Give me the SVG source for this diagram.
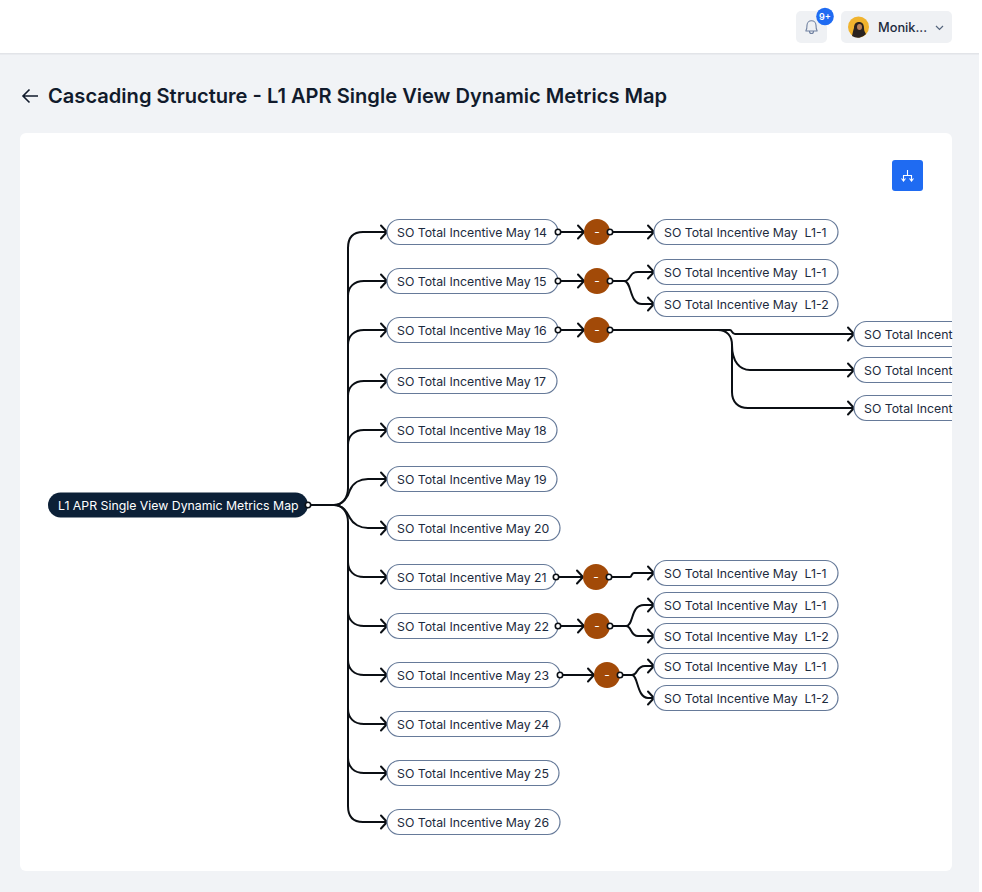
<svg xmlns="http://www.w3.org/2000/svg" width="982" height="892" viewBox="0 0 982 892">
<style>
text{font-family:Inter,"Liberation Sans",sans-serif;fill:#1c2a3d}
.l{font-size:12.3px}
.p{fill:#fff;stroke:#667a99;stroke-width:1.2}
.c{fill:none;stroke:#0b0f14;stroke-width:2;stroke-linecap:round}
.a{fill:none;stroke:#0b0f14;stroke-width:2;stroke-linecap:round;stroke-linejoin:round}
.d{fill:#fff;stroke:#0b0f14;stroke-width:1.6}
.m{fill:#a24a08}
.mt{font-size:12px;fill:#fff;text-anchor:middle}
</style>
<defs>
<clipPath id="card"><rect x="20" y="133" width="932" height="738" rx="6"/></clipPath>
<marker id="ah" markerUnits="userSpaceOnUse" markerWidth="14" markerHeight="16" refX="11" refY="8" orient="auto"><path class="a" d="M5 1.5L11 8L5 14.5"/></marker>
</defs>
<rect width="982" height="892" fill="#f1f3f6"/>
<rect x="979" width="3" height="892" fill="#fff"/>
<rect width="979" height="53" fill="#fff"/>
<rect y="53" width="979" height="1.5" fill="#e2e4e8"/>
<g id="bell"><rect x="796" y="11" width="31" height="32" rx="5" fill="#eff1f4"/>
<path d="M806 31v-.7c1-1 1-2 1-5a4.500 4.500 0 0 1 9 0c0 3 0 4 1 5v.7zM809.500 31.500a2 2 0 0 0 4 0" fill="none" stroke="#6f80a0" stroke-width="1.100"/>
<circle cx="825" cy="16.500" r="8.800" fill="#1f6bf2"/><text x="825" y="20" font-size="9" font-weight="600" text-anchor="middle" style="fill:#fff">9+</text></g>
<g id="user"><rect x="841" y="11" width="111" height="32" rx="5" fill="#eff1f4"/>
<circle cx="858.500" cy="27" r="10.500" fill="#f0b32e"/><path d="M852 36c1-4 1-5 2-8c0-4 2-6 5-6s5 2 5 6c0 3 1 4 2 6a10.500 10.500 0 0 1-14 2z" fill="#2a2320"/><ellipse cx="859.500" cy="27" rx="2.500" ry="3" fill="#b9825c"/>
<text x="878" y="32" font-size="12.800" font-weight="500">Monik...</text><path d="M936 26l3.500 3.500L943 26" fill="none" stroke="#55657d" stroke-width="1.200"/></g>
<g id="heading"><path d="M38 96H23M29.500 89.500L23 96l6.500 6.500" fill="none" stroke="#111b2c" stroke-width="1.600"/>
<text x="48" y="103" font-size="20.100" font-weight="600" style="fill:#111b2c">Cascading Structure - L1 APR Single View Dynamic Metrics Map</text></g>
<rect id="panel" x="20" y="133" width="932" height="738" rx="6" fill="#fff"/>
<g id="layout-button"><rect x="892" y="160" width="31" height="31" rx="3" fill="#1f6bf2"/><path d="M907.500 170v5M903.500 181v-5.500h8v5.500M901.500 178.500l2 2.500l2-2.500M909.500 178.500l2 2.500l2-2.500" fill="none" stroke="#fff" stroke-width="1.100"/></g>
<g id="connectors" clip-path="url(#card)">
<path class="c" d="M308 505H334C343 505 348 497 348 488V248C348 238 353 232 363 232H387" marker-end="url(#ah)"/>
<path class="c" d="M348 296C348 287 354 281 364 281H387" marker-end="url(#ah)"/>
<path class="c" d="M348 345C348 336 354 330 364 330H387" marker-end="url(#ah)"/>
<path class="c" d="M348 396C348 387 354 381 364 381H387" marker-end="url(#ah)"/>
<path class="c" d="M348 445C348 436 354 430 364 430H387" marker-end="url(#ah)"/>
<path class="c" d="M334 505C343 505 348 497 350 490C353 483 360 479 368 479H387" marker-end="url(#ah)"/>
<path class="c" d="M334 505C343 505 347 512 350 518C353 524 360 528 368 528H387" marker-end="url(#ah)"/>
<path class="c" d="M334 505C343 505 348 513 348 522V806C348 816 353 822 363 822H387" marker-end="url(#ah)"/>
<path class="c" d="M348 562C348 571 354 577 364 577H387" marker-end="url(#ah)"/>
<path class="c" d="M348 611C348 620 354 626 364 626H387" marker-end="url(#ah)"/>
<path class="c" d="M348 660C348 669 354 675 364 675H387" marker-end="url(#ah)"/>
<path class="c" d="M348 709C348 718 354 724 364 724H387" marker-end="url(#ah)"/>
<path class="c" d="M348 758C348 767 354 773 364 773H387" marker-end="url(#ah)"/>
<path class="c" d="M558 232H584" marker-end="url(#ah)"/><path class="c" d="M610 232H654" marker-end="url(#ah)"/>
<path class="c" d="M558 281H584" marker-end="url(#ah)"/>
<path class="c" d="M610 281H624C632 281 628 272 638 272H654" marker-end="url(#ah)"/>
<path class="c" d="M624 281C632 281 629 304 642 304H654" marker-end="url(#ah)"/>
<path class="c" d="M558 330H584" marker-end="url(#ah)"/>
<path class="c" d="M610 330H730C732 330 732 334 735 334H854" marker-end="url(#ah)"/>
<path class="c" d="M718 330C727 330 732 336 732 345C732 362 740 370 750 370H854" marker-end="url(#ah)"/>
<path class="c" d="M732 345V392C732 402 738 408 748 408H854" marker-end="url(#ah)"/>
<path class="c" d="M556 577H583" marker-end="url(#ah)"/>
<path class="c" d="M609 577H630C632 577 631 573 634 573H654" marker-end="url(#ah)"/>
<path class="c" d="M558 626H584" marker-end="url(#ah)"/>
<path class="c" d="M610 626H626C634 626 630 605 644 605H654" marker-end="url(#ah)"/>
<path class="c" d="M626 626C632 626 630 636 638 636H654" marker-end="url(#ah)"/>
<path class="c" d="M560 675H594" marker-end="url(#ah)"/>
<path class="c" d="M620 675H632C638 675 636 666 645 666H654" marker-end="url(#ah)"/>
<path class="c" d="M632 675C638 675 637 698 648 698H654" marker-end="url(#ah)"/>
</g>
<g id="root"><rect x="48" y="492.500" width="260" height="25" rx="12.500" fill="#0c2037"/><text x="58" y="509.500" class="l" style="fill:#fff">L1 APR Single View Dynamic Metrics Map</text><circle class="d" cx="308" cy="505" r="2.700"/></g>
<g id="n14"><rect class="p" x="387" y="219.500" width="171" height="25" rx="12.500"/><text class="l" x="397" y="236.500">SO Total Incentive May 14</text><circle class="d" cx="558" cy="232" r="2.700"/></g>
<g id="n15"><rect class="p" x="387" y="268.500" width="171" height="25" rx="12.500"/><text class="l" x="397" y="285.500">SO Total Incentive May 15</text><circle class="d" cx="558" cy="281" r="2.700"/></g>
<g id="n16"><rect class="p" x="387" y="317.500" width="171" height="25" rx="12.500"/><text class="l" x="397" y="334.500">SO Total Incentive May 16</text><circle class="d" cx="558" cy="330" r="2.700"/></g>
<g id="n17"><rect class="p" x="387" y="368.500" width="170" height="25" rx="12.500"/><text class="l" x="397" y="385.500">SO Total Incentive May 17</text></g>
<g id="n18"><rect class="p" x="387" y="417.500" width="170" height="25" rx="12.500"/><text class="l" x="397" y="434.500">SO Total Incentive May 18</text></g>
<g id="n19"><rect class="p" x="387" y="466.500" width="170" height="25" rx="12.500"/><text class="l" x="397" y="483.500">SO Total Incentive May 19</text></g>
<g id="n20"><rect class="p" x="387" y="515.500" width="173" height="25" rx="12.500"/><text class="l" x="397" y="532.500">SO Total Incentive May 20</text></g>
<g id="n21"><rect class="p" x="387" y="564.500" width="169" height="25" rx="12.500"/><text class="l" x="397" y="581.500">SO Total Incentive May 21</text><circle class="d" cx="556" cy="577" r="2.700"/></g>
<g id="n22"><rect class="p" x="387" y="613.500" width="171" height="25" rx="12.500"/><text class="l" x="397" y="630.500">SO Total Incentive May 22</text><circle class="d" cx="558" cy="626" r="2.700"/></g>
<g id="n23"><rect class="p" x="387" y="662.500" width="173" height="25" rx="12.500"/><text class="l" x="397" y="679.500">SO Total Incentive May 23</text><circle class="d" cx="560" cy="675" r="2.700"/></g>
<g id="n24"><rect class="p" x="387" y="711.500" width="173" height="25" rx="12.500"/><text class="l" x="397" y="728.500">SO Total Incentive May 24</text></g>
<g id="n25"><rect class="p" x="387" y="760.500" width="172" height="25" rx="12.500"/><text class="l" x="397" y="777.500">SO Total Incentive May 25</text></g>
<g id="n26"><rect class="p" x="387" y="809.500" width="173" height="25" rx="12.500"/><text class="l" x="397" y="826.500">SO Total Incentive May 26</text></g>
<g id="m14"><circle class="m" cx="597" cy="232" r="13"/><text class="mt" x="597" y="236">-</text><circle class="d" cx="610" cy="232" r="2.700"/></g>
<g id="m15"><circle class="m" cx="597" cy="281" r="13"/><text class="mt" x="597" y="285">-</text><circle class="d" cx="610" cy="281" r="2.700"/></g>
<g id="m16"><circle class="m" cx="597" cy="330" r="13"/><text class="mt" x="597" y="334">-</text><circle class="d" cx="610" cy="330" r="2.700"/></g>
<g id="m21"><circle class="m" cx="596" cy="577" r="13"/><text class="mt" x="596" y="581">-</text><circle class="d" cx="609" cy="577" r="2.700"/></g>
<g id="m22"><circle class="m" cx="597" cy="626" r="13"/><text class="mt" x="597" y="630">-</text><circle class="d" cx="610" cy="626" r="2.700"/></g>
<g id="m23"><circle class="m" cx="607" cy="675" r="13"/><text class="mt" x="607" y="679">-</text><circle class="d" cx="620" cy="675" r="2.700"/></g>
<g id="c14-1"><rect class="p" x="654" y="219.500" width="184" height="25" rx="12.500"/><text class="l" x="664" y="236.500" xml:space="preserve">SO Total Incentive May  L1-1</text></g>
<g id="c15-1"><rect class="p" x="654" y="259.500" width="184" height="25" rx="12.500"/><text class="l" x="664" y="276.500" xml:space="preserve">SO Total Incentive May  L1-1</text></g>
<g id="c15-2"><rect class="p" x="654" y="291.500" width="184" height="25" rx="12.500"/><text class="l" x="664" y="308.500" xml:space="preserve">SO Total Incentive May  L1-2</text></g>
<g id="c21-1"><rect class="p" x="654" y="560.500" width="184" height="25" rx="12.500"/><text class="l" x="664" y="577.500" xml:space="preserve">SO Total Incentive May  L1-1</text></g>
<g id="c22-1"><rect class="p" x="654" y="592.500" width="184" height="25" rx="12.500"/><text class="l" x="664" y="609.500" xml:space="preserve">SO Total Incentive May  L1-1</text></g>
<g id="c22-2"><rect class="p" x="654" y="623.500" width="184" height="25" rx="12.500"/><text class="l" x="664" y="640.500" xml:space="preserve">SO Total Incentive May  L1-2</text></g>
<g id="c23-1"><rect class="p" x="654" y="653.500" width="184" height="25" rx="12.500"/><text class="l" x="664" y="670.500" xml:space="preserve">SO Total Incentive May  L1-1</text></g>
<g id="c23-2"><rect class="p" x="654" y="685.500" width="184" height="25" rx="12.500"/><text class="l" x="664" y="702.500" xml:space="preserve">SO Total Incentive May  L1-2</text></g>
<g id="c16-1"><rect class="p" x="854" y="321.500" width="184" height="25" rx="12.500" clip-path="url(#card)"/><text class="l" x="864" y="338.500">SO Total Incent</text></g>
<g id="c16-2"><rect class="p" x="854" y="357.500" width="184" height="25" rx="12.500" clip-path="url(#card)"/><text class="l" x="864" y="374.500">SO Total Incent</text></g>
<g id="c16-3"><rect class="p" x="854" y="395.500" width="184" height="25" rx="12.500" clip-path="url(#card)"/><text class="l" x="864" y="412.500">SO Total Incent</text></g>
</svg>
